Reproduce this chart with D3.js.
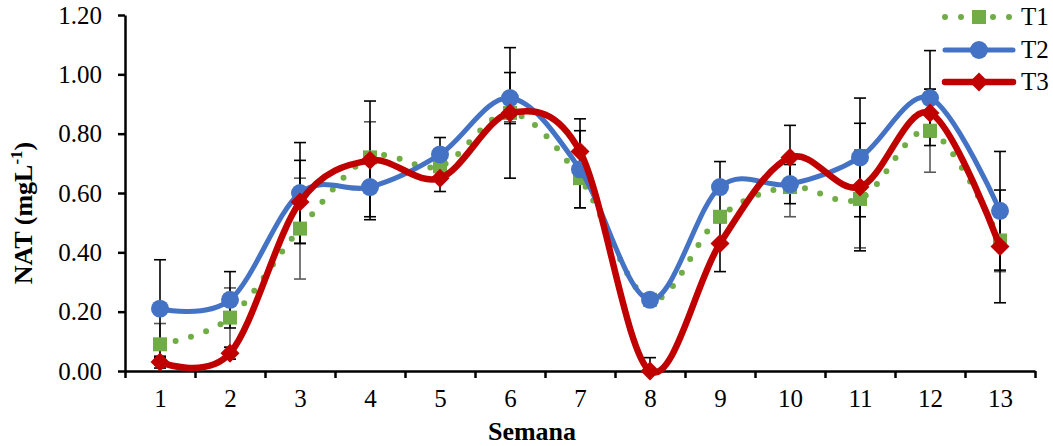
<!DOCTYPE html>
<html>
<head>
<meta charset="utf-8">
<script src="https://cdn.jsdelivr.net/npm/d3@7"></script>
<style>
  body { margin: 0; background: #fff; }
  text { font-family: "Liberation Serif", "Times New Roman", serif; }
</style>
</head>
<body>
<svg id="chart" width="1053" height="446"></svg>
<script>
// weeks and treatment means / errors
const weeks = [1, 2, 3, 4, 5, 6, 7, 8, 9, 10, 11, 12, 13];
const yTicks = [0, 0.2, 0.4, 0.6, 0.8, 1.0, 1.2];

const t1 = [0.09, 0.18, 0.48, 0.72, 0.69, 0.87, 0.65, 0.24, 0.52, 0.62, 0.58, 0.81, 0.44];
const t1Err = [0.07, 0.10, 0.17, 0.12, 0.02, 0.03, 0.10, 0.02, 0.02, 0.10, 0.165, 0.14, 0.105];
const t2 = [0.21, 0.24, 0.60, 0.62, 0.73, 0.92, 0.68, 0.24, 0.62, 0.63, 0.72, 0.92, 0.54];
const t2Err = [0.165, 0.095, 0.17, 0.10, 0.057, 0.086, 0.13, 0.02, 0.086, 0.066, 0.20, 0.16, 0.20];
const t3 = [0.03, 0.06, 0.57, 0.71, 0.65, 0.87, 0.74, 0.00, 0.43, 0.72, 0.62, 0.87, 0.42];
const t3Err = [0.02, 0.02, 0.14, 0.20, 0.045, 0.22, 0.11, 0.045, 0.095, 0.108, 0.215, 0.08, 0.19];

const series = [
  {name: 'T1', values: t1, err: t1Err, color: '#70AD47', errColor: '#595959', width: 6, dash: '0,16', marker: 'square'},
  {name: 'T2', values: t2, err: t2Err, color: '#4472C4', errColor: '#000', width: 5, dash: null, marker: 'circle'},
  {name: 'T3', values: t3, err: t3Err, color: '#C00000', errColor: '#000', width: 6.5, dash: null, marker: 'diamond'}
];

const serif = '"Liberation Serif", "Times New Roman", serif';
const svg = d3.select('#chart');
const plotL = 125, plotR = 1035, plotT = 15, plotB = 371;

const x = d3.scaleLinear().domain([0.5, 13.5]).range([plotL, plotR]);
const y = d3.scaleLinear().domain([0, 1.2]).range([plotB, plotT]);

// axes
const yAxis = svg.append('g')
  .attr('transform', `translate(${plotL},0)`)
  .call(d3.axisLeft(y).tickValues(yTicks).tickFormat(d3.format('.2f')).tickSize(7).tickSizeOuter(0).tickPadding(16))
  .attr('font-family', serif).attr('font-size', 25);
yAxis.select('.domain').attr('stroke', '#000').attr('stroke-width', 2.5);
yAxis.selectAll('.tick line').attr('stroke', '#000').attr('stroke-width', 2.5);
yAxis.selectAll('.tick text').attr('fill', '#000');

const boundaries = d3.range(0.5, 14, 1);
const xAxis = svg.append('g')
  .attr('transform', `translate(0,${plotB})`)
  .call(d3.axisBottom(x).tickValues(boundaries).tickFormat('').tickSize(7).tickSizeOuter(0));
xAxis.select('.domain').attr('stroke', '#000').attr('stroke-width', 2.5);
xAxis.selectAll('.tick line').attr('stroke', '#000').attr('stroke-width', 2.5);

const xLabels = svg.append('g')
  .attr('transform', `translate(0,${plotB})`)
  .call(d3.axisBottom(x).tickValues(weeks).tickFormat(d3.format('d')).tickSize(0).tickPadding(18))
  .attr('font-family', serif).attr('font-size', 25);
xLabels.select('.domain').remove();
xLabels.selectAll('.tick text').attr('fill', '#000');

// axis titles
svg.append('text')
  .attr('x', 532).attr('y', 440)
  .attr('text-anchor', 'middle')
  .attr('font-size', 26).attr('font-weight', 'bold')
  .text('Semana');

const yTitle = svg.append('text')
  .attr('transform', 'translate(32,213) rotate(-90)')
  .attr('text-anchor', 'middle')
  .attr('font-size', 26).attr('font-weight', 'bold');
yTitle.append('tspan').text('NAT (mgL');
yTitle.append('tspan').attr('dy', -10).attr('font-size', 17).text('-1');
yTitle.append('tspan').attr('dy', 10).text(')');

// marker drawing
function drawMarker(g, type, cx, cy, color) {
  if (type === 'circle') {
    g.append('circle').attr('cx', cx).attr('cy', cy).attr('r', 9).attr('fill', color);
  } else if (type === 'square') {
    g.append('rect').attr('x', cx - 7).attr('y', cy - 7).attr('width', 14).attr('height', 14).attr('fill', color);
  } else {
    g.append('path')
      .attr('d', `M${cx},${cy - 9.5}L${cx + 9.5},${cy}L${cx},${cy + 9.5}L${cx - 9.5},${cy}Z`)
      .attr('fill', color);
  }
}

// error bars first
series.forEach(s => {
  const g = svg.append('g').attr('stroke', s.errColor).attr('stroke-width', 1.6);
  weeks.forEach((w, i) => {
    const hi = s.values[i] + s.err[i];
    const lo = Math.max(0, s.values[i] - s.err[i]);
    g.append('line').attr('x1', x(w)).attr('x2', x(w)).attr('y1', y(hi)).attr('y2', y(lo));
    g.append('line').attr('x1', x(w) - 6).attr('x2', x(w) + 6).attr('y1', y(hi)).attr('y2', y(hi));
    if (lo > 0) g.append('line').attr('x1', x(w) - 6).attr('x2', x(w) + 6).attr('y1', y(lo)).attr('y2', y(lo));
  });
});

// smoothed lines + markers
const line = d3.line()
  .x((d, i) => x(weeks[i]))
  .y(d => y(d))
  .curve(d3.curveCardinal.tension(0));

series.forEach(s => {
  const g = svg.append('g');
  g.append('path')
    .attr('d', line(s.values))
    .attr('fill', 'none')
    .attr('stroke', s.color)
    .attr('stroke-width', s.width)
    .attr('stroke-linecap', 'round')
    .attr('stroke-linejoin', 'round')
    .attr('stroke-dasharray', s.dash);
  weeks.forEach((w, i) => drawMarker(g, s.marker, x(w), y(s.values[i]), s.color));
});

// legend
const legendRows = [17, 50, 82];
series.forEach((s, i) => {
  const g = svg.append('g');
  const ly = legendRows[i];
  g.append('line')
    .attr('x1', 945).attr('x2', 1013).attr('y1', ly).attr('y2', ly)
    .attr('stroke', s.color).attr('stroke-width', s.width)
    .attr('stroke-linecap', 'round')
    .attr('stroke-dasharray', s.dash);
  drawMarker(g, s.marker, 979, ly, s.color);
  g.append('text')
    .attr('x', 1021).attr('y', ly + 8)
    .attr('font-size', 25)
    .text(s.name);
});
</script>
</body>
</html>
